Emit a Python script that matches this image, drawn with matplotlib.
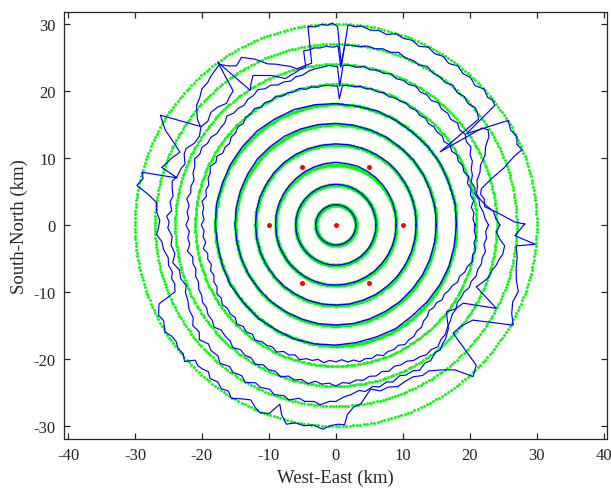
import numpy as np
import matplotlib
matplotlib.use("Agg")
import matplotlib.pyplot as plt

plt.rcParams['font.family'] = ['Liberation Serif', 'DejaVu Serif']
plt.rcParams['axes.unicode_minus'] = False

# ---------------- data ----------------
ring_radii = [3, 6, 9, 12, 15, 18, 21, 24, 27, 30]          # km, reference circles
station_x = [0, 10, 5, -5, -10, -5, 5]                         # km
station_y = [0, 0, 8.66, 8.66, 0, -8.66, -8.66]                # km
xticks = [-40, -30, -20, -10, 0, 10, 20, 30, 40]
yticks = [-30, -20, -10, 0, 10, 20, 30]

ang10 = list(range(0, 370, 10))  # degrees for the inner contours
c3 = [3.0, 3.0, 3.02, 3.0, 3.01, 3.0, 3.02, 3.01, 3.0, 3.02, 3.0, 3.01, 3.0, 3.0, 2.99, 3.0, 3.0, 3.01,
      3.0, 3.0, 2.99, 3.0, 3.0, 3.0, 2.99, 3.0, 3.0, 3.0, 2.99, 3.0, 3.0, 3.0, 3.0, 2.99, 3.0, 3.0, 3.0]
c6 = [6.0, 6.02, 6.0, 6.03, 6.02, 6.05, 6.04, 6.06, 6.05, 6.07, 6.05, 6.04, 6.03, 6.02, 6.02, 6.0, 6.01, 6.0,
      6.0, 5.99, 6.0, 5.98, 6.0, 5.99, 5.98, 6.0, 5.99, 6.0, 5.98, 6.0, 5.99, 6.0, 6.0, 5.99, 6.0, 6.01, 6.0]
c9 = [9.0, 9.05, 9.1, 9.15, 9.2, 9.25, 9.3, 9.35, 9.3, 9.35, 9.3, 9.25, 9.2, 9.15, 9.1, 9.1, 9.05, 9.05,
      9.0, 9.0, 9.02, 8.98, 9.0, 8.97, 9.0, 8.98, 9.0, 8.97, 8.95, 8.98, 8.95, 8.97, 8.95, 8.98, 9.0, 9.0, 9.0]
c12 = [12.0, 12.05, 12.08, 12.1, 12.12, 12.15, 12.12, 12.1, 12.12, 12.1, 12.08, 12.1, 12.12, 12.1, 12.08, 12.05, 12.06, 12.03,
       12.0, 11.98, 12.0, 11.97, 11.96, 11.98, 11.95, 11.97, 11.95, 11.93, 11.95, 11.92, 11.95, 11.93, 11.96, 11.95, 11.98, 12.0, 12.0]
c15 = [15.0, 15.05, 15.0, 15.08, 15.1, 15.05, 15.1, 15.08, 15.12, 15.15, 15.2, 15.25, 15.3, 15.25, 15.3, 15.2, 15.15, 15.1,
       15.05, 15.0, 14.98, 15.0, 14.95, 14.97, 14.95, 14.92, 14.95, 14.9, 14.92, 14.88, 14.85, 14.9, 14.88, 14.92, 14.95, 14.98, 15.0]
c18 = [18.0, 18.1, 18.0, 18.1, 18.05, 17.95, 18.0, 18.1, 18.0, 18.1, 18.2, 18.3, 18.25, 18.3, 18.2, 18.15, 18.05, 18.1,
       18.0, 17.9, 18.0, 18.1, 18.0, 18.1, 18.0, 18.1, 18.0, 17.9, 17.8, 17.75, 17.85, 17.7, 17.8, 17.9, 18.0, 17.95, 18.0]

c21 = [(0, 20.8), (2.5, 20.5), (5, 20.7), (7.5, 20.4), (10, 20.9), (12.5, 20.6), (15, 20.9), (17.5, 20.6),
       (20, 21.1), (22.5, 20.7), (25, 20.9), (27.5, 20.6), (30, 20.9), (32.5, 20.5), (35, 20.8), (37.5, 20.4),
       (40, 20.7), (42.5, 20.5), (45, 20.7), (47.5, 20.5), (50, 20.8), (52.5, 20.6), (55, 20.9), (57.5, 20.7),
       (60, 21.0), (62.5, 20.8), (65, 20.9), (67.5, 20.7), (70, 21.0), (72.5, 20.8), (75, 21.0), (77.5, 20.8),
       (80, 21.0), (82.5, 20.8), (85, 20.9), (87.3, 20.8), (88.4, 18.8), (89.3, 20.7), (92.5, 20.8), (95, 20.9),
       (97.5, 20.7), (100, 20.9), (102.5, 20.7), (105, 21.1), (107.5, 20.8), (110, 21.0), (112.5, 20.8),
       (115, 21.2), (117.5, 20.9), (120, 21.1), (122.5, 20.8), (125, 21.2), (127.5, 20.9), (130, 20.9),
       (132.5, 20.5), (135, 20.7), (137.5, 20.3), (140, 20.4), (142.5, 20.0), (145, 20.2), (147.5, 20.0),
       (150, 20.5), (152.5, 20.2), (155, 20.7), (157.5, 20.3), (160, 20.3), (162.5, 19.9), (165, 20.1),
       (167.5, 19.8), (170, 20.3), (172.5, 19.9), (175, 20.0), (177.5, 19.7), (180, 20.1), (182.5, 19.7),
       (185, 19.9), (187.5, 19.6), (190, 20.1), (192.5, 19.6), (195, 19.8), (197.5, 19.5), (200, 19.9),
       (202.5, 19.7), (205, 20.1), (207.5, 20.0), (210, 20.5), (212.5, 20.3), (215, 20.7), (217.5, 20.4),
       (220, 20.6), (222.5, 20.4), (225, 20.9), (227.5, 20.5), (230, 20.8), (232.5, 20.5), (235, 21.0),
       (237.5, 20.6), (240, 20.7), (242.5, 20.5), (245, 20.9), (247.5, 20.4), (250, 20.6), (252.5, 20.3),
       (255, 20.8), (257.5, 20.4), (260, 20.5), (262.5, 20.2), (265, 20.6), (267.5, 20.2), (270, 20.4),
       (272.5, 20.1), (275, 20.5), (277.5, 20.3), (280, 20.7), (282.5, 20.4), (285, 20.6), (287.5, 20.3),
       (290, 20.7), (292.5, 20.4), (295, 20.5), (297.5, 20.2), (300, 20.6), (302.5, 20.3), (305, 20.3),
       (307.5, 19.9), (310, 19.9), (312.5, 19.4), (315, 19.3), (317.5, 18.9), (320, 19.1), (322.5, 19.0),
       (325, 19.4), (327.5, 19.2), (330, 19.5), (332.5, 19.6), (335, 20.1), (337.5, 20.0), (340, 20.5),
       (342.5, 20.6), (345, 21.1), (347.5, 20.9), (350, 21.2), (352.5, 20.8), (355, 21.0), (357.5, 20.7),
       (360, 20.8)]

c24 = [(0, 22.8), (2.5, 22.3), (5, 22.1), (7.5, 21.7), (10, 21.7), (12.5, 21.3), (15, 21.5), (17.5, 21.2),
       (20, 21.7), (22.5, 21.9), (25, 22.5), (27.5, 22.6), (30, 23.3), (32.5, 23.1), (35, 23.6), (37.5, 23.3),
       (40, 23.7), (42.5, 23.3), (45, 23.6), (47.5, 23.4), (50, 23.8), (52.5, 23.4), (55, 23.7), (57.5, 23.5),
       (60, 23.9), (62.5, 23.6), (65, 23.8), (67.5, 23.6), (70, 24.0), (72.5, 23.7), (75, 23.9), (77.5, 23.7),
       (80, 24.0), (82.5, 23.7), (85, 23.9), (87.4, 23.8), (88.4, 20.7), (89.4, 23.6), (92.5, 23.8), (95, 23.6),
       (97.5, 23.5), (100, 23.3), (102.5, 22.9), (105, 22.9), (107.5, 22.5), (110, 22.7), (112.5, 22.6),
       (115, 23.0), (117.5, 22.9), (120, 23.3), (122.5, 22.9), (125, 22.9), (127.5, 22.5), (130, 22.7),
       (132.5, 22.6), (135, 23.0), (137.5, 22.5), (140, 22.5), (142.5, 22.4), (145, 22.8), (147.5, 22.7),
       (150, 23.1), (152.5, 22.9), (155, 23.3), (157.5, 22.8), (160, 22.7), (162.5, 22.2), (165, 22.4),
       (167.5, 22.2), (170, 22.6), (172.5, 22.1), (175, 22.3), (177.5, 22.0), (180, 22.4), (182.5, 21.9),
       (185, 22.2), (187.5, 22.0), (190, 22.5), (192.5, 21.9), (195, 22.1), (197.5, 21.9), (200, 22.3),
       (202.5, 22.2), (205, 22.6), (207.5, 22.6), (210, 23.0), (212.5, 22.9), (215, 23.3), (217.5, 23.3),
       (220, 23.7), (222.5, 23.2), (225, 23.4), (227.5, 23.4), (230, 23.9), (232.5, 23.4), (235, 23.7),
       (237.5, 23.5), (240, 24.0), (242.5, 23.5), (245, 23.8), (247.5, 23.6), (250, 24.1), (252.5, 23.6),
       (255, 23.9), (257.5, 23.6), (260, 24.0), (262.5, 23.5), (265, 23.8), (267.5, 23.6), (270, 24.0),
       (272.5, 23.5), (275, 23.7), (277.5, 23.3), (280, 23.5), (282.5, 23.1), (285, 23.3), (287.5, 22.9),
       (290, 23.2), (292.5, 22.8), (295, 23.0), (297.5, 22.9), (300, 23.3), (302.5, 23.3), (305, 23.6),
       (307.5, 23.4), (310, 23.7), (312.5, 23.2), (315, 23.1), (317.5, 22.6), (320, 22.3), (322.5, 21.9),
       (325, 21.9), (327.5, 21.5), (330, 21.6), (332.5, 21.6), (335, 22.0), (337.5, 21.9), (340, 22.3),
       (342.5, 22.2), (345, 22.5), (347.5, 22.4), (350, 22.7), (352.5, 22.3), (355, 22.6), (357.5, 22.4),
       (360, 22.8)]

c27 = [(0, 24.5), (2.5, 23.9), (5, 23.6), (7.5, 22.6), (10, 21.9), (12.5, 21.5), (15, 21.9), (17.5, 22.1),
       (20, 22.9), (22.5, 23.4), (25, 24.6), (27.5, 25.2), (30, 26.4), (32, 26.8), (33.5, 26.2), (35, 19.0),
       (36.5, 26.5), (38, 26.9), (40, 27.2), (42.5, 26.8), (45, 27.1), (47.5, 26.8), (50, 27.2), (52.5, 26.8),
       (55, 27.0), (57.5, 26.9), (60, 27.3), (62.5, 26.9), (65, 27.1), (67.5, 27.0), (70, 27.4), (72.5, 27.0),
       (75, 27.2), (77.5, 26.9), (80, 27.1), (82.5, 26.8), (85, 26.9), (87.2, 26.8), (88.2, 23.5), (89.3, 26.7),
       (91, 26.5), (93, 26.7), (95, 26.5), (97, 26.6), (99, 26.4), (100.5, 26.4), (100.8, 24.0), (103, 23.8),
       (105, 23.5), (107, 23.3), (109, 23.1), (111, 23.6), (113, 24.2), (116, 24.8), (119, 25.5), (121, 24.6),
       (122.5, 23.8), (126, 30.0), (127.5, 25.2), (130, 24.8), (132, 24.4), (135, 24.9), (138, 25.1),
       (141, 24.6), (144, 24.9), (147, 24.3), (150, 24.4), (153, 25.1), (155, 25.0), (158, 24.3), (160, 24.6),
       (163, 24.8), (165, 25.3), (167, 25.1), (170, 24.7), (172, 25.0), (175, 24.6), (177, 25.3), (179, 24.9),
       (181, 25.1), (184, 24.5), (187, 24.8), (190, 24.4), (193, 25.0), (196, 24.3), (199, 24.5), (202, 24.1),
       (204, 24.6), (207, 24.8), (210, 25.3), (213, 25.4), (215, 26.1), (218, 25.9), (220, 26.6), (223, 26.0),
       (225, 26.4), (228, 26.3), (230, 26.9), (233, 26.4), (235, 26.8), (238, 26.5), (240, 27.1), (243, 26.4),
       (245, 26.7), (248, 26.4), (250, 26.9), (253, 26.6), (255, 27.0), (258, 26.4), (260, 26.7), (263, 26.5),
       (265, 26.9), (268, 26.3), (270, 26.3), (273, 25.6), (275, 25.4), (278, 24.9), (280, 25.2), (283, 24.7),
       (285, 25.0), (288, 24.6), (290, 24.9), (293, 24.4), (295, 24.7), (298, 24.6), (300, 25.0), (303, 24.5),
       (305, 24.7), (308, 24.1), (310, 24.3), (312, 23.8), (314, 23.6), (317.5, 22.8), (320, 21.7), (322, 21.0),
       (325, 21.8), (328.5, 22.3), (332.6, 27.0), (336.3, 22.9), (339, 23.6), (341, 24.1), (344, 24.3),
       (346, 24.7), (348, 24.9), (350, 25.3), (353, 25.4), (355, 24.6), (357.6, 24.0), (360, 24.5)]

c30 = [(0.3, 28.2), (1, 26.7), (4.5, 24.1), (7, 22.4), (10, 22.5), (12, 22.1), (14, 22.4), (16.5, 24.2),
       (18.8, 26.6), (21, 28.5), (22, 30.0), (24, 29.6), (26, 30.1), (28.5, 29.7), (31.2, 30.1), (34.9, 23.8),
       (36.9, 29.7), (38.5, 29.9), (40, 29.6), (42.5, 30.0), (45, 29.4), (47.5, 29.8), (50, 29.5), (52.5, 29.9),
       (55, 29.4), (57.5, 29.8), (60, 29.5), (62.5, 29.9), (65, 29.4), (67.5, 29.8), (70, 29.6), (72.5, 29.9),
       (75, 29.4), (77.5, 29.7), (80, 29.5), (82.5, 29.9), (84.5, 29.7), (86.5, 29.9), (88, 23.8), (89.5, 29.6),
       (91, 30.1), (92.5, 29.8), (94, 30.0), (96, 29.7), (98, 29.9), (98.5, 24.4), (101, 24.2), (104, 24.0),
       (106, 24.6), (108, 25.0), (110.5, 25.6), (113, 26.1), (116, 27.5), (119.4, 28.7), (122, 28.0),
       (124, 28.6), (126, 29.6), (130, 29.0), (132, 28.6), (134.6, 28.5), (137, 27.8), (139.4, 27.4),
       (142.7, 26.0), (144, 25.0), (148, 30.9), (151, 29.1), (153, 27.2), (155, 25.7), (158, 26.5), (160, 26.9),
       (161.7, 27.4), (163.5, 24.7), (164.8, 30.0), (166.5, 29.6), (168.8, 30.3), (170.5, 28.6), (172.8, 27.0),
       (176, 26.8), (178.5, 26.3), (181, 26.5), (183, 26.8), (185.5, 26.1), (188, 26.0), (191, 25.5),
       (193.5, 25.7), (196, 25.4), (198, 25.8), (200, 25.6), (202.5, 26.0), (204, 28.9), (206.9, 29.7),
       (209, 29.4), (212, 30.1), (214, 29.6), (216, 29.5), (218, 29.9), (220, 29.8), (222, 30.4), (223.8, 29.1),
       (225.5, 29.4), (227, 29.3), (229, 29.0), (230.6, 29.6), (233, 29.3), (235, 29.8), (237, 29.5),
       (238.9, 30.2), (241, 29.6), (244, 29.0), (246, 29.7), (248, 30.2), (250.5, 29.8), (252.6, 28.0),
       (254, 29.4), (256, 30.6), (258.5, 30.1), (261, 30.3), (263.5, 30.0), (266.4, 30.5), (268.5, 29.9),
       (270.7, 29.7), (272.5, 29.8), (273.5, 28.3), (275.5, 27.3), (278, 26.9), (280, 25.9), (282, 25.0),
       (285, 25.6), (288, 25.4), (291, 25.8), (294, 25.5), (297, 25.4), (300, 25.9), (302.5, 25.8),
       (305.3, 26.5), (307.5, 27.2), (309.5, 28.0), (312.2, 30.5), (315.1, 29.6), (317.4, 23.8), (321, 24.0),
       (325.3, 24.9), (330.6, 30.4), (333.3, 29.4), (336.5, 28.8), (340, 29.0), (343, 28.2), (346.5, 27.7),
       (350, 27.5), (353.4, 27.1), (354.5, 29.9), (356.6, 26.8), (360.3, 28.2)]

# ---------------- figure ----------------
W, H = 611, 489
fig = plt.figure(figsize=(W / 100, H / 100), dpi=100)
ax = fig.add_axes([64 / W, 1 - 440 / H, 543 / W, 427.3 / H])

# green reference circles drawn as dots
th = np.linspace(0, 2 * np.pi, 360, endpoint=False)
for r in ring_radii:
    ms = 2.6 if r <= 18 else 2.1
    ax.plot(r * np.cos(th), r * np.sin(th), linestyle='none', marker='o', markersize=ms,
            markeredgewidth=0, color=(0, 1, 0), zorder=2)

def draw_polar(angles_deg, radii, lw):
    a = np.radians(np.asarray(angles_deg, dtype=float))
    rr = np.asarray(radii, dtype=float)
    ax.plot(rr * np.cos(a), rr * np.sin(a), color=(0, 0, 1), lw=lw, zorder=3)

for c in (c3, c6, c9, c12, c15, c18):
    draw_polar(ang10, c, 1.0)
for c in (c21, c24, c27, c30):
    draw_polar([p[0] for p in c], [p[1] for p in c], 0.85)

ax.plot(station_x, station_y, linestyle='none', marker='o', markersize=3.6,
        markeredgewidth=0, color=(1, 0, 0), zorder=4)

ax.set_xlim(-40.6, 40.5)
ax.set_ylim(-31.9, 31.8)
ax.set_xticks(xticks)
ax.set_yticks(yticks)
ax.set_xticklabels([str(v) for v in xticks])
ax.set_yticklabels([str(v) for v in yticks])
dark = '#262626'
for s in ax.spines.values():
    s.set_color(dark)
    s.set_linewidth(0.9)
ax.tick_params(direction='in', length=4, width=0.9, color=dark, labelcolor=dark,
               labelsize=12, top=True, right=True, pad=6)
ax.set_xlabel('West-East (km)', fontsize=13.5, color=dark, labelpad=4)
ax.set_ylabel('South-North (km)', fontsize=13.5, color=dark, labelpad=4)

fig.savefig('out.png', dpi=100)
